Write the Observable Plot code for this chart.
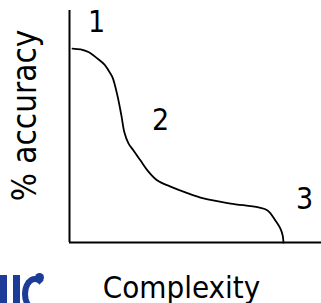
<!DOCTYPE html>
<html>
<head>
<meta charset="utf-8">
<script src="https://cdn.jsdelivr.net/npm/d3@7"></script>
<script src="https://cdn.jsdelivr.net/npm/@observablehq/plot@0.6"></script>
<style>
  html, body { margin: 0; padding: 0; background: #fff; }
  #wrap { position: relative; width: 321px; height: 303px; overflow: hidden; }
  .bar { position: absolute; top: 275px; width: 7px; height: 30px; background: #1d3c98; }
  #c { position: absolute; left: 22px; top: 276px; width: 14px; height: 24px; border: 6px solid #1d3c98; border-right-color: transparent; border-radius: 50%; }
  #dot { position: absolute; left: 35px; top: 273px; width: 9px; height: 9px; border-radius: 50%; background: #1d3c98; }
</style>
</head>
<body>
<div id="wrap"><div id="chart"></div>
  <div class="bar" style="left:0px"></div><div class="bar" style="left:13px"></div><div id="c"></div><div id="dot"></div>
</div>
<script>
// Complexity (0-100) vs % accuracy (0-100)
const complexity = [1.2, 4.4, 7.5, 11.1, 13.9, 15.5, 17.1, 19.0, 20.6, 21.8, 23.4, 25.4, 28.2, 31.0, 34.9, 40.1, 46.0, 53.2, 63.9, 75.0, 78.6, 81.7, 83.7, 84.6, 84.9];
const accuracy   = [83.6, 83.2, 82.1, 79.3, 76.7, 74.1, 71.1, 63.4, 54.7, 47.4, 42.7, 39.7, 35.3, 31.0, 26.7, 24.1, 21.6, 19.0, 16.8, 15.1, 13.8, 9.5, 6.0, 3.0, 0];

const labelText = ["1", "2", "3"];
const labelX = [10.7, 36.1, 93.3];
const labelY = [94.7, 52.8, 18.4];

const xTitle = "Complexity";
const yTitle = "% accuracy";

const curve = complexity.map((c, i) => ({c, a: accuracy[i]}));
const labels = labelText.map((t, i) => ({t, x: labelX[i], y: labelY[i]}));

const font = "'DejaVu Sans Condensed', 'DejaVu Sans', sans-serif";

const chart = Plot.plot({
  width: 321,
  height: 303,
  marginLeft: 69,
  marginRight: 0,
  marginTop: 10,
  marginBottom: 61,
  x: {domain: [0, 100], axis: null},
  y: {domain: [0, 100], axis: null},
  style: {background: "#fff", color: "#000", fontFamily: font},
  marks: [
    Plot.ruleX([0], {stroke: "#000", strokeWidth: 2}),
    Plot.ruleY([0], {stroke: "#000", strokeWidth: 2}),
    Plot.line(curve, {x: "c", y: "a", stroke: "#000", strokeWidth: 1.8, curve: "catmull-rom"}),
    Plot.text(labels, {x: "x", y: "y", text: "t", fontSize: 30, fill: "#000", lineAnchor: "middle", fontFamily: font}),
    Plot.text([xTitle], {frameAnchor: "bottom", lineAnchor: "bottom", dx: -14, dy: 55, fontSize: 31, fill: "#000", fontFamily: font}),
    Plot.text([yTitle], {frameAnchor: "left", lineAnchor: "bottom", textAnchor: "middle", rotate: -90, dx: -34, dy: -11, fontSize: 33, fill: "#000", fontFamily: font})
  ]
});
document.getElementById("chart").appendChild(chart);
</script>
</body>
</html>
